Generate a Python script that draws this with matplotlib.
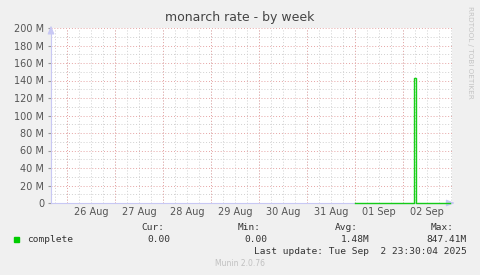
import matplotlib
matplotlib.use("Agg")
import matplotlib.pyplot as plt
import matplotlib.dates as mdates
import matplotlib.ticker as mticker
import pandas as pd
import numpy as np

# series: complete (rate), step data as sampled by munin
times = pd.to_datetime(["2025-09-01 00:00", "2025-09-02 05:30", "2025-09-02 06:30",
                        "2025-09-02 23:30"])
values = [0, 143e6, 0, 0]

x_start = pd.Timestamp("2025-08-25 16:00")
x_end = pd.Timestamp("2025-09-03 00:30")
days = pd.date_range("2025-08-26", "2025-09-02", freq="D")

legend_name = "complete"
cur, vmin, avg, vmax = "0.00", "0.00", "1.48M", "847.41M"
last_update = "Last update: Tue Sep  2 23:30:04 2025"

bg = "#f0f0f0"
grid_gray = "#d0d0d0"
grid_red = "#e6a4a4"
axis_col = "#c8c8f4"
green = "#00cc00"

fig = plt.figure(figsize=(4.81, 2.75), dpi=100, facecolor=bg)
W, H = 481, 275
ax = fig.add_axes([51 / W, (H - 203) / H, 401 / W, 175 / H])
ax.set_facecolor("white")

ax.set_xlim(x_start, x_end)
ax.set_ylim(0, 200e6)

# y grid
ax.yaxis.set_major_locator(mticker.MultipleLocator(20e6))
ax.yaxis.set_minor_locator(mticker.MultipleLocator(10e6))
ax.yaxis.set_major_formatter(mticker.FuncFormatter(
    lambda v, p: "0" if v == 0 else f"{v / 1e6:.0f} M"))
ax.grid(True, axis="y", which="minor", color=grid_gray, lw=0.7, ls=(0, (1, 2)))
ax.grid(True, axis="y", which="major", color=grid_red, lw=0.7, ls=(0, (1, 2)))

# x grid: gray every 6 h, red at midnight
ax.xaxis.set_major_locator(mdates.HourLocator(byhour=[12]))
ax.xaxis.set_minor_locator(mdates.HourLocator(byhour=[0, 6, 18]))
ax.xaxis.set_major_formatter(mdates.DateFormatter("%d %b"))
ax.grid(True, axis="x", which="both", color=grid_gray, lw=0.7, ls=(0, (1, 2)))
for d in days:
    ax.axvline(d, color=grid_red, lw=0.7, ls=(0, (1, 2)), zorder=1.5)

ax.set_axisbelow(True)

ax.tick_params(axis="x", which="major", length=0, labelsize=7, labelcolor="#555555", pad=3)
ax.tick_params(axis="x", which="minor", length=0)
ax.tick_params(axis="y", which="major", length=2, color="#999999", labelsize=7,
               labelcolor="#555555", pad=3)
ax.tick_params(axis="y", which="minor", length=0)

for s in ["top", "right"]:
    ax.spines[s].set_visible(False)
for s in ["bottom", "left"]:
    ax.spines[s].set_color(axis_col)
    ax.spines[s].set_linewidth(0.8)

# axis arrows
ax.annotate("", xy=(1.014, 0), xytext=(0.99, 0), xycoords="axes fraction",
            arrowprops=dict(arrowstyle="-|>,head_width=0.2,head_length=0.5",
                            color=axis_col, lw=0.8), annotation_clip=False)
ax.annotate("", xy=(0, 1.03), xytext=(0, 0.98), xycoords="axes fraction",
            arrowprops=dict(arrowstyle="-|>,head_width=0.2,head_length=0.5",
                            color=axis_col, lw=0.8), annotation_clip=False)

ax.step(times, values, where="post", color=green, lw=1.0, zorder=5, clip_on=False,
        alpha=0.9)

# title and side texts
fig.text(240 / W, 1 - 18 / H, "monarch rate - by week", ha="center", va="center",
         fontsize=9, color="#444444")
fig.text(470 / W, 1 - 52 / H, "RRDTOOL / TOBI OETIKER", ha="center", va="center",
         rotation=270, fontsize=5.2, color="#c4c4c4")
fig.text(240 / W, 1 - 264 / H, "Munin 2.0.76", ha="center", va="center",
         fontsize=5.5, color="#c0c0c0")

# legend block
mono = dict(family="DejaVu Sans Mono", fontsize=6.8, color="#333333", va="center")
fig.patches.append(plt.Rectangle((14 / W, 1 - 242 / H), 5 / W, 5 / H,
                                 transform=fig.transFigure, color=green))
fig.text(27 / W, 1 - 240 / H, legend_name, ha="left", **mono)
for hdr, val, hx, vx in [("Cur:", cur, 164, 170), ("Min:", vmin, 261, 267),
                         ("Avg:", avg, 358, 370), ("Max:", vmax, 454, 467)]:
    fig.text(hx / W, 1 - 227 / H, hdr, ha="right", **mono)
    fig.text(vx / W, 1 - 240 / H, val, ha="right", **mono)
fig.text(467 / W, 1 - 252 / H, last_update, ha="right", **mono)

fig.savefig("out.png", dpi=100, facecolor=bg)
